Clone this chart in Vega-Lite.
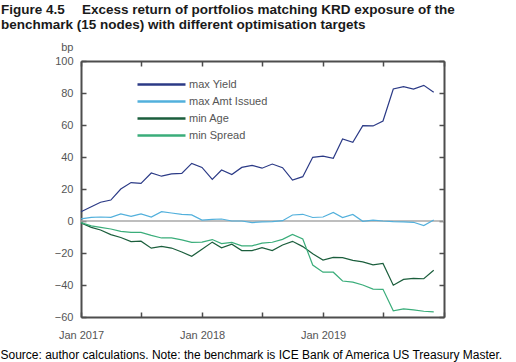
{
  "$schema": "https://vega.github.io/schema/vega-lite/v6.json",
  "width": 363,
  "height": 256,
  "autosize": {"type": "none"},
  "padding": {"left": 81, "top": 61, "right": 72, "bottom": 45},
  "background": "white",
  "title": {
    "text": ["Figure 4.5\u2003 Excess return of portfolios matching KRD exposure of the", "benchmark (15 nodes) with different optimisation targets"],
    "anchor": "start",
    "frame": "group",
    "dx": -80,
    "offset": 10,
    "font": "Liberation Sans",
    "fontSize": 13.5,
    "fontWeight": "bold",
    "color": "#1a1a1a",
    "lineHeight": 14.5
  },
  "config": {
    "view": {"stroke": null},
    "axis": {
      "labelFont": "Liberation Sans",
      "titleFont": "Liberation Sans",
      "labelFontSize": 11,
      "labelColor": "#555555",
      "grid": false,
      "domainColor": "#4d4d4d",
      "domainWidth": 2,
      "tickColor": "#4d4d4d",
      "tickWidth": 1.5,
      "tickSize": -5
    },
    "legend": {
      "labelFont": "Liberation Sans",
      "labelFontSize": 11,
      "labelColor": "#555555"
    }
  },
  "data": {
    "values": [
      {"date": "2017-01-01", "series": "max Yield", "value": 5.8},
      {"date": "2017-02-01", "series": "max Yield", "value": 8.9},
      {"date": "2017-03-01", "series": "max Yield", "value": 11.7},
      {"date": "2017-04-01", "series": "max Yield", "value": 13.1},
      {"date": "2017-05-01", "series": "max Yield", "value": 20},
      {"date": "2017-06-01", "series": "max Yield", "value": 24},
      {"date": "2017-07-01", "series": "max Yield", "value": 23.5},
      {"date": "2017-08-01", "series": "max Yield", "value": 30},
      {"date": "2017-09-01", "series": "max Yield", "value": 28},
      {"date": "2017-10-01", "series": "max Yield", "value": 29.4},
      {"date": "2017-11-01", "series": "max Yield", "value": 29.8},
      {"date": "2017-12-01", "series": "max Yield", "value": 36},
      {"date": "2018-01-01", "series": "max Yield", "value": 33.5},
      {"date": "2018-02-01", "series": "max Yield", "value": 26},
      {"date": "2018-03-01", "series": "max Yield", "value": 31.9},
      {"date": "2018-04-01", "series": "max Yield", "value": 29},
      {"date": "2018-05-01", "series": "max Yield", "value": 33.5},
      {"date": "2018-06-01", "series": "max Yield", "value": 34.8},
      {"date": "2018-07-01", "series": "max Yield", "value": 33},
      {"date": "2018-08-01", "series": "max Yield", "value": 35.6},
      {"date": "2018-09-01", "series": "max Yield", "value": 33.3},
      {"date": "2018-10-01", "series": "max Yield", "value": 25.6},
      {"date": "2018-11-01", "series": "max Yield", "value": 27.7},
      {"date": "2018-12-01", "series": "max Yield", "value": 39.8},
      {"date": "2019-01-01", "series": "max Yield", "value": 40.6},
      {"date": "2019-02-01", "series": "max Yield", "value": 39.2},
      {"date": "2019-03-01", "series": "max Yield", "value": 51.3},
      {"date": "2019-04-01", "series": "max Yield", "value": 49.2},
      {"date": "2019-05-01", "series": "max Yield", "value": 59.6},
      {"date": "2019-06-01", "series": "max Yield", "value": 59.4},
      {"date": "2019-07-01", "series": "max Yield", "value": 62.5},
      {"date": "2019-08-01", "series": "max Yield", "value": 82.5},
      {"date": "2019-09-01", "series": "max Yield", "value": 84},
      {"date": "2019-10-01", "series": "max Yield", "value": 82.5},
      {"date": "2019-11-01", "series": "max Yield", "value": 84.8},
      {"date": "2019-12-01", "series": "max Yield", "value": 80.4},
      {"date": "2017-01-01", "series": "max Amt Issued", "value": 1.3},
      {"date": "2017-02-01", "series": "max Amt Issued", "value": 2.3},
      {"date": "2017-03-01", "series": "max Amt Issued", "value": 2.5},
      {"date": "2017-04-01", "series": "max Amt Issued", "value": 2.3},
      {"date": "2017-05-01", "series": "max Amt Issued", "value": 4.4},
      {"date": "2017-06-01", "series": "max Amt Issued", "value": 2.9},
      {"date": "2017-07-01", "series": "max Amt Issued", "value": 4.4},
      {"date": "2017-08-01", "series": "max Amt Issued", "value": 2.5},
      {"date": "2017-09-01", "series": "max Amt Issued", "value": 5.8},
      {"date": "2017-10-01", "series": "max Amt Issued", "value": 5},
      {"date": "2017-11-01", "series": "max Amt Issued", "value": 4.2},
      {"date": "2017-12-01", "series": "max Amt Issued", "value": 3.8},
      {"date": "2018-01-01", "series": "max Amt Issued", "value": 0.6},
      {"date": "2018-02-01", "series": "max Amt Issued", "value": 1},
      {"date": "2018-03-01", "series": "max Amt Issued", "value": 1.25},
      {"date": "2018-04-01", "series": "max Amt Issued", "value": 0},
      {"date": "2018-05-01", "series": "max Amt Issued", "value": 0},
      {"date": "2018-06-01", "series": "max Amt Issued", "value": -1},
      {"date": "2018-07-01", "series": "max Amt Issued", "value": -0.6},
      {"date": "2018-08-01", "series": "max Amt Issued", "value": -0.4},
      {"date": "2018-09-01", "series": "max Amt Issued", "value": 0.2},
      {"date": "2018-10-01", "series": "max Amt Issued", "value": 3.75},
      {"date": "2018-11-01", "series": "max Amt Issued", "value": 4.2},
      {"date": "2018-12-01", "series": "max Amt Issued", "value": 2.2},
      {"date": "2019-01-01", "series": "max Amt Issued", "value": 2.5},
      {"date": "2019-02-01", "series": "max Amt Issued", "value": 5.3},
      {"date": "2019-03-01", "series": "max Amt Issued", "value": 2.1},
      {"date": "2019-04-01", "series": "max Amt Issued", "value": 4.1},
      {"date": "2019-05-01", "series": "max Amt Issued", "value": -0.2},
      {"date": "2019-06-01", "series": "max Amt Issued", "value": 0.6},
      {"date": "2019-07-01", "series": "max Amt Issued", "value": 0},
      {"date": "2019-08-01", "series": "max Amt Issued", "value": -0.4},
      {"date": "2019-09-01", "series": "max Amt Issued", "value": -0.6},
      {"date": "2019-10-01", "series": "max Amt Issued", "value": -0.8},
      {"date": "2019-11-01", "series": "max Amt Issued", "value": -2.9},
      {"date": "2019-12-01", "series": "max Amt Issued", "value": 0.6},
      {"date": "2017-01-01", "series": "min Age", "value": -1.2},
      {"date": "2017-02-01", "series": "min Age", "value": -4},
      {"date": "2017-03-01", "series": "min Age", "value": -5.6},
      {"date": "2017-04-01", "series": "min Age", "value": -8.5},
      {"date": "2017-05-01", "series": "min Age", "value": -10.3},
      {"date": "2017-06-01", "series": "min Age", "value": -12.9},
      {"date": "2017-07-01", "series": "min Age", "value": -12.6},
      {"date": "2017-08-01", "series": "min Age", "value": -17},
      {"date": "2017-09-01", "series": "min Age", "value": -15.9},
      {"date": "2017-10-01", "series": "min Age", "value": -16.9},
      {"date": "2017-11-01", "series": "min Age", "value": -19.4},
      {"date": "2017-12-01", "series": "min Age", "value": -22.1},
      {"date": "2018-01-01", "series": "min Age", "value": -17.7},
      {"date": "2018-02-01", "series": "min Age", "value": -13.2},
      {"date": "2018-03-01", "series": "min Age", "value": -16.7},
      {"date": "2018-04-01", "series": "min Age", "value": -14.5},
      {"date": "2018-05-01", "series": "min Age", "value": -18.5},
      {"date": "2018-06-01", "series": "min Age", "value": -18.5},
      {"date": "2018-07-01", "series": "min Age", "value": -16.7},
      {"date": "2018-08-01", "series": "min Age", "value": -18.5},
      {"date": "2018-09-01", "series": "min Age", "value": -15},
      {"date": "2018-10-01", "series": "min Age", "value": -12.7},
      {"date": "2018-11-01", "series": "min Age", "value": -16},
      {"date": "2018-12-01", "series": "min Age", "value": -20.5},
      {"date": "2019-01-01", "series": "min Age", "value": -24.4},
      {"date": "2019-02-01", "series": "min Age", "value": -22.7},
      {"date": "2019-03-01", "series": "min Age", "value": -22.9},
      {"date": "2019-04-01", "series": "min Age", "value": -24.6},
      {"date": "2019-05-01", "series": "min Age", "value": -25.6},
      {"date": "2019-06-01", "series": "min Age", "value": -27.4},
      {"date": "2019-07-01", "series": "min Age", "value": -26.5},
      {"date": "2019-08-01", "series": "min Age", "value": -40.1},
      {"date": "2019-09-01", "series": "min Age", "value": -36.5},
      {"date": "2019-10-01", "series": "min Age", "value": -35.8},
      {"date": "2019-11-01", "series": "min Age", "value": -36.1},
      {"date": "2019-12-01", "series": "min Age", "value": -30.8},
      {"date": "2017-01-01", "series": "min Spread", "value": -1},
      {"date": "2017-02-01", "series": "min Spread", "value": -3},
      {"date": "2017-03-01", "series": "min Spread", "value": -4},
      {"date": "2017-04-01", "series": "min Spread", "value": -5},
      {"date": "2017-05-01", "series": "min Spread", "value": -6.5},
      {"date": "2017-06-01", "series": "min Spread", "value": -7.1},
      {"date": "2017-07-01", "series": "min Spread", "value": -7.1},
      {"date": "2017-08-01", "series": "min Spread", "value": -9},
      {"date": "2017-09-01", "series": "min Spread", "value": -10.6},
      {"date": "2017-10-01", "series": "min Spread", "value": -10.5},
      {"date": "2017-11-01", "series": "min Spread", "value": -11.8},
      {"date": "2017-12-01", "series": "min Spread", "value": -13.3},
      {"date": "2018-01-01", "series": "min Spread", "value": -13.2},
      {"date": "2018-02-01", "series": "min Spread", "value": -11.6},
      {"date": "2018-03-01", "series": "min Spread", "value": -14.1},
      {"date": "2018-04-01", "series": "min Spread", "value": -13.4},
      {"date": "2018-05-01", "series": "min Spread", "value": -15.5},
      {"date": "2018-06-01", "series": "min Spread", "value": -15.5},
      {"date": "2018-07-01", "series": "min Spread", "value": -13.8},
      {"date": "2018-08-01", "series": "min Spread", "value": -13.3},
      {"date": "2018-09-01", "series": "min Spread", "value": -11.5},
      {"date": "2018-10-01", "series": "min Spread", "value": -8.4},
      {"date": "2018-11-01", "series": "min Spread", "value": -11.2},
      {"date": "2018-12-01", "series": "min Spread", "value": -27.5},
      {"date": "2019-01-01", "series": "min Spread", "value": -32},
      {"date": "2019-02-01", "series": "min Spread", "value": -32},
      {"date": "2019-03-01", "series": "min Spread", "value": -37.5},
      {"date": "2019-04-01", "series": "min Spread", "value": -38.2},
      {"date": "2019-05-01", "series": "min Spread", "value": -40},
      {"date": "2019-06-01", "series": "min Spread", "value": -42.6},
      {"date": "2019-07-01", "series": "min Spread", "value": -42.7},
      {"date": "2019-08-01", "series": "min Spread", "value": -56.1},
      {"date": "2019-09-01", "series": "min Spread", "value": -54.9},
      {"date": "2019-10-01", "series": "min Spread", "value": -55.6},
      {"date": "2019-11-01", "series": "min Spread", "value": -56.4},
      {"date": "2019-12-01", "series": "min Spread", "value": -56.8}
    ]
  },
  "layer": [
    {
      "data": {"values": [{"zero": 0}]},
      "mark": {"type": "rule", "color": "#a8a8a8", "strokeWidth": 1.5},
      "encoding": {
        "y": {"field": "zero", "type": "quantitative", "scale": {"domain": [-60, 100]}, "axis": null}
      }
    },
    {
      "mark": {"type": "point", "opacity": 0},
      "encoding": {
        "x": {
          "field": "date", "type": "temporal",
          "scale": {"type": "utc", "domain": [{"year": 2017, "month": 1, "date": 1, "utc": true}, {"year": 2020, "month": 1, "date": 1, "utc": true}]},
          "axis": {
            "orient": "top", "labels": false, "title": null,
            "values": [
              {"year": 2017, "month": 1, "date": 1, "utc": true},
              {"year": 2017, "month": 7, "date": 1, "utc": true},
              {"year": 2018, "month": 1, "date": 1, "utc": true},
              {"year": 2018, "month": 7, "date": 1, "utc": true},
              {"year": 2019, "month": 1, "date": 1, "utc": true},
              {"year": 2019, "month": 7, "date": 1, "utc": true},
              {"year": 2020, "month": 1, "date": 1, "utc": true}
            ]
          }
        },
        "y": {
          "field": "value", "type": "quantitative",
          "scale": {"domain": [-60, 100]},
          "axis": {"orient": "right", "labels": false, "title": null, "values": [-60, -40, -20, 0, 20, 40, 60, 80, 100]}
        }
      }
    },
    {
      "mark": {"type": "line", "strokeWidth": 1.2},
      "encoding": {
        "x": {
          "field": "date", "type": "temporal",
          "scale": {"type": "utc", "domain": [{"year": 2017, "month": 1, "date": 1, "utc": true}, {"year": 2020, "month": 1, "date": 1, "utc": true}]},
          "axis": {
            "orient": "bottom",
            "values": [
              {"year": 2017, "month": 1, "date": 1, "utc": true},
              {"year": 2017, "month": 7, "date": 1, "utc": true},
              {"year": 2018, "month": 1, "date": 1, "utc": true},
              {"year": 2018, "month": 7, "date": 1, "utc": true},
              {"year": 2019, "month": 1, "date": 1, "utc": true},
              {"year": 2019, "month": 7, "date": 1, "utc": true},
              {"year": 2020, "month": 1, "date": 1, "utc": true}
            ],
            "labelExpr": "utcFormat(datum.value, '%m') == '01' && utcFormat(datum.value, '%Y') != '2020' ? utcFormat(datum.value, '%b %Y') : ''",
            "labelPadding": 17,
            "labelFlush": false,
            "title": "Source: author calculations. Note: the benchmark is ICE Bank of America US Treasury Master.",
            "titleX": -81,
            "titleY": 41,
            "titleAlign": "left",
            "titleBaseline": "alphabetic",
            "titleFontSize": 12,
            "titleFontWeight": "normal",
            "titleColor": "#000000"
          }
        },
        "y": {
          "field": "value", "type": "quantitative",
          "scale": {"domain": [-60, 100]},
          "axis": {
            "orient": "left",
            "values": [-60, -40, -20, 0, 20, 40, 60, 80, 100],
            "labelPadding": 13,
            "title": "bp",
            "titleAngle": 0,
            "titleX": -8,
            "titleY": -11,
            "titleAlign": "right",
            "titleBaseline": "alphabetic",
            "titleFontSize": 11,
            "titleFontWeight": "normal",
            "titleColor": "#555555"
          }
        },
        "color": {
          "field": "series", "type": "nominal",
          "scale": {
            "domain": ["max Yield", "max Amt Issued", "min Age", "min Spread"],
            "range": ["#2b3a86", "#52b0dc", "#1b5e3c", "#3aad7a"]
          },
          "legend": {
            "title": null,
            "orient": "none",
            "legendX": 75,
            "legendY": 18,
            "symbolType": "M-8,0H8",
            "symbolSize": 36,
            "symbolStrokeWidth": 2.5,
            "labelOffset": 22,
            "rowPadding": 5
          }
        }
      }
    }
  ],
  "resolve": {
    "scale": {"x": "independent", "y": "independent"},
    "axis": {"x": "independent", "y": "independent"}
  }
}
